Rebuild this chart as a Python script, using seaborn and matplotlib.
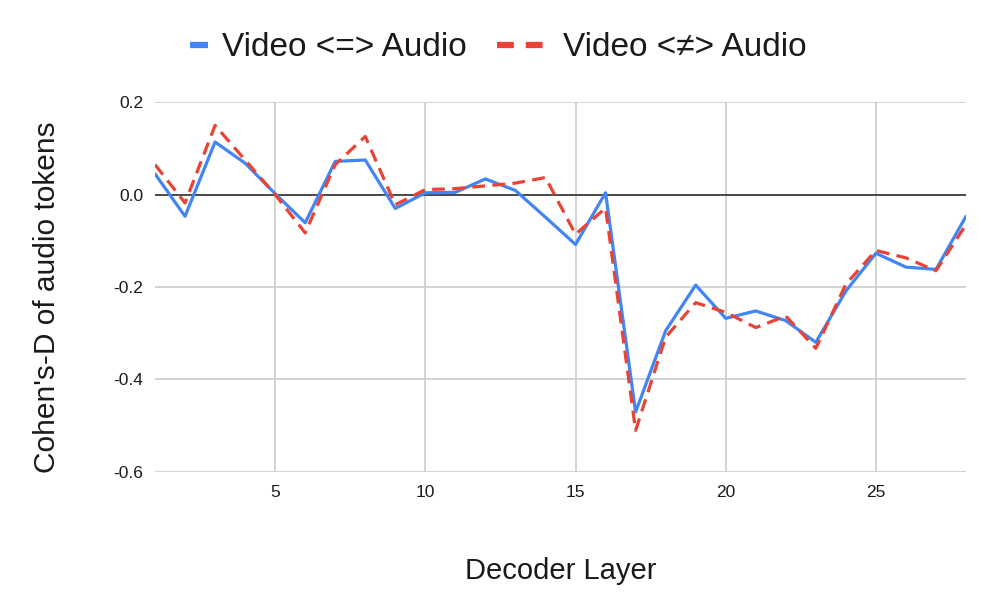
import numpy as np
import pandas as pd
import matplotlib.pyplot as plt
import seaborn as sns
from matplotlib.lines import Line2D

# Values
layers = list(range(1, 29))
same_pair = [0.045, -0.047, 0.114, 0.068, 0.002, -0.061, 0.072, 0.075, -0.030, 0.004,
             0.005, 0.034, 0.009, -0.049, -0.108, 0.004, -0.471, -0.295, -0.196, -0.268,
             -0.252, -0.273, -0.320, -0.209, -0.127, -0.157, -0.162, -0.047]
diff_pair = [0.065, -0.018, 0.150, 0.075, 0.000, -0.083, 0.065, 0.126, -0.022, 0.011,
             0.013, 0.019, 0.025, 0.037, -0.086, -0.029, -0.511, -0.309, -0.234, -0.255,
             -0.288, -0.263, -0.333, -0.194, -0.121, -0.137, -0.165, -0.065]
series_names = ["Video <=> Audio", "Video <\u2260> Audio"]

df = pd.DataFrame({
    "Decoder Layer": layers * 2,
    "Cohen's-D": same_pair + diff_pair,
    "Series": [series_names[0]] * len(layers) + [series_names[1]] * len(layers),
})

sns.set_style("white")
plt.rcParams["font.family"] = ["Liberation Sans", "DejaVu Sans"]

fig = plt.figure(figsize=(9.97, 6.16), dpi=100)
ax = fig.add_axes([155 / 997, 1 - 471.6 / 616, (966 - 155) / 997, (471.6 - 102.3) / 616])

colors = {series_names[0]: "#4285F4", series_names[1]: "#EA4335"}
dashes = {series_names[0]: "", series_names[1]: (4, 2.3)}
sns.lineplot(data=df, x="Decoder Layer", y="Cohen's-D", hue="Series", style="Series",
             palette=colors, dashes=dashes, linewidth=2.3, ax=ax, legend=False)

ax.axhline(0, color="#333333", linewidth=1.2, zorder=1)
ax.set_xlim(1, 28)
ax.set_ylim(-0.6, 0.2)
ax.set_xticks([5, 10, 15, 20, 25])
ax.set_yticks([-0.6, -0.4, -0.2, 0.0, 0.2])
ax.set_yticklabels(["-0.6", "-0.4", "-0.2", "0.0", "0.2"])
ax.grid(True, color="#cccccc", linewidth=1.2)
ax.set_axisbelow(True)
for s in ax.spines.values():
    s.set_visible(False)
ax.tick_params(length=0, labelsize=12.5, colors="#1a1a1a")
ax.tick_params(axis="y", pad=8.5)
ax.tick_params(axis="x", pad=10)

ax.set_xlabel("Decoder Layer", fontsize=21, labelpad=41, color="#1a1a1a")
ax.set_ylabel("Cohen's-D of audio tokens", fontsize=21.5, color="#1a1a1a")
ax.yaxis.set_label_coords(-0.116, 0.473)

# two legend entries with different handle lengths, as in the reference
legend_y = 1 - 48 / 616
h1 = Line2D([], [], color=colors[series_names[0]], linewidth=4.5, solid_capstyle="butt")
h2 = Line2D([], [], color=colors[series_names[1]], linewidth=4.5, dashes=(2.7, 1.9),
            dash_capstyle="butt")
leg1 = fig.legend([h1], [series_names[0]], loc="center left", bbox_to_anchor=(190 / 997, legend_y),
                  frameon=False, fontsize=24, handlelength=0.55, handletextpad=0.4,
                  borderpad=0, borderaxespad=0, labelcolor="#1a1a1a")
leg2 = fig.legend([h2], [series_names[1]], loc="center left", bbox_to_anchor=(497 / 997, legend_y),
                  frameon=False, fontsize=24, handlelength=1.38, handletextpad=0.6,
                  borderpad=0, borderaxespad=0, labelcolor="#1a1a1a")

plt.savefig("out.png", dpi=100)
